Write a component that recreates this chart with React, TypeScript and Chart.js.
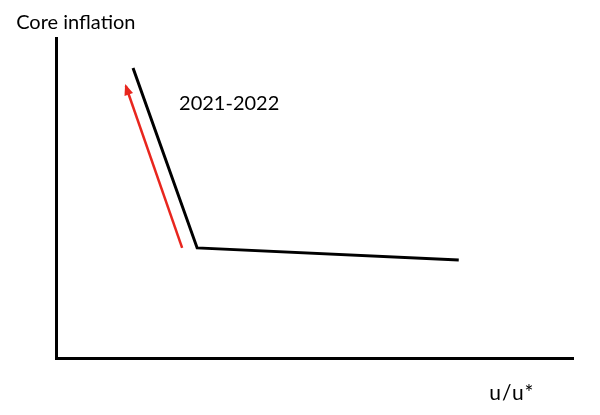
import React, { useEffect, useRef } from "react";
import { Chart, registerables } from "chart.js";

Chart.register(...registerables);

// Stylised schematic: core inflation vs u/u* (arbitrary units 0-100)
const curveX = [14.9, 27.3, 77.9];
const curveY = [90.6, 34.4, 30.6];
const arrowX = [24.4, 13.5];
const arrowY = [34.4, 85.0];
const periodLabel = "2021-2022";
const yTitle = "Core inflation";
const xTitle = "u/u*";

const FONT = "Lato, sans-serif";

const overlay = {
  id: "overlay",
  afterDatasetsDraw(chart: any) {
    const ctx = chart.ctx;
    const xs = chart.scales.x;
    const ys = chart.scales.y;
    // arrow head on red line
    const meta = chart.getDatasetMeta(1);
    const p0 = meta.data[0];
    const p1 = meta.data[1];
    const ang = Math.atan2(p1.y - p0.y, p1.x - p0.x);
    const len = 11;
    const half = 4.5;
    ctx.save();
    ctx.fillStyle = "#e8261e";
    ctx.beginPath();
    const tx = p1.x + Math.cos(ang) * 2;
    const ty = p1.y + Math.sin(ang) * 2;
    ctx.moveTo(tx, ty);
    const bx = tx - Math.cos(ang) * len;
    const by = ty - Math.sin(ang) * len;
    ctx.lineTo(bx + Math.cos(ang + Math.PI / 2) * half, by + Math.sin(ang + Math.PI / 2) * half);
    ctx.lineTo(bx - Math.cos(ang + Math.PI / 2) * half, by - Math.sin(ang + Math.PI / 2) * half);
    ctx.closePath();
    ctx.fill();
    ctx.restore();

    ctx.save();
    ctx.fillStyle = "#000";
    ctx.textBaseline = "alphabetic";
    ctx.textAlign = "left";
    ctx.font = `20px ${FONT}`;
    ctx.fillText(periodLabel, xs.getPixelForValue(23.8), ys.getPixelForValue(77.6));
    ctx.fillText(yTitle, xs.getPixelForValue(-7.7), ys.getPixelForValue(102.9));
    ctx.font = `21px ${FONT}`;
    (ctx as any).letterSpacing = "1px";
    ctx.fillText(xTitle, xs.getPixelForValue(83.8), ys.getPixelForValue(-13.1));
    ctx.restore();
  },
};

export default function App() {
  const ref = useRef<HTMLCanvasElement>(null);
  useEffect(() => {
    if (!ref.current) return;
    const chart = new Chart(ref.current, {
      type: "scatter",
      data: {
        datasets: [
          {
            data: curveX.map((x, i) => ({ x, y: curveY[i] })),
            showLine: true,
            borderColor: "#000",
            borderWidth: 3,
            pointRadius: 0,
            borderJoinStyle: "miter",
          },
          {
            data: arrowX.map((x, i) => ({ x, y: arrowY[i] })),
            showLine: true,
            borderColor: "#e8261e",
            borderWidth: 2.5,
            pointRadius: 0,
          },
        ],
      },
      options: {
        animation: false,
        responsive: true,
        maintainAspectRatio: false,
        layout: { padding: { left: 56, right: 27, top: 38, bottom: 57 } },
        plugins: { legend: { display: false }, tooltip: { enabled: false } },
        scales: {
          x: {
            type: "linear",
            min: 0,
            max: 100,
            grid: { display: false, drawTicks: false },
            ticks: { display: false },
            border: { display: true, color: "#000", width: 3 },
          },
          y: {
            type: "linear",
            min: 0,
            max: 100,
            grid: { display: false, drawTicks: false },
            ticks: { display: false },
            border: { display: true, color: "#000", width: 3 },
          },
        },
      },
      plugins: [overlay],
    });
    return () => chart.destroy();
  }, []);
  return (
    <div style={{ position: "fixed", left: 0, top: 0, width: 600, height: 415, background: "#fff" }}>
      <canvas ref={ref} />
    </div>
  );
}
